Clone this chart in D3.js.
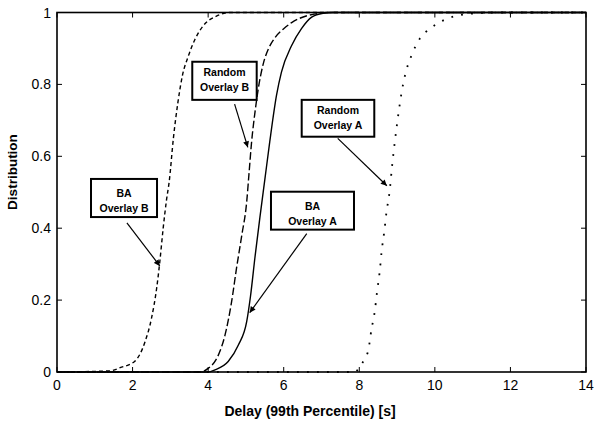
<!DOCTYPE html>
<html>
<head>
<meta charset="utf-8">
<script src="https://cdn.jsdelivr.net/npm/d3@7"></script>
<style>
  body { margin: 0; background: #fff; }
  svg { font-family: "Liberation Sans", Arial, sans-serif; }
</style>
</head>
<body>
<div id="chart"></div>
<script>
// curves (x = delay [s], y = distribution)
var baB_x = [0, 1.4, 1.67, 2.06, 2.33, 2.5, 2.64, 2.72, 2.81, 2.9, 2.97, 3.08, 3.2, 3.32, 3.47, 3.65, 3.87, 4.22, 4.6, 14];
var baB_y = [0, 0.003, 0.012, 0.03, 0.084, 0.149, 0.235, 0.306, 0.40, 0.48, 0.53, 0.65, 0.75, 0.825, 0.877, 0.925, 0.963, 0.99, 1, 1];

var rndB_x = [0, 3.8, 4.0, 4.27, 4.44, 4.62, 4.75, 4.89, 5.02, 5.08, 5.15, 5.24, 5.33, 5.46, 5.6, 5.77, 6.0, 6.21, 6.65, 6.9, 7.2, 14];
var rndB_y = [0, 0, 0.01, 0.047, 0.10, 0.195, 0.288, 0.38, 0.473, 0.55, 0.64, 0.723, 0.79, 0.858, 0.9, 0.93, 0.955, 0.972, 0.992, 0.997, 1, 1];

var baA_x = [0, 4.0, 4.18, 4.53, 4.8, 5.02, 5.12, 5.24, 5.37, 5.5, 5.63, 5.81, 5.94, 6.21, 6.47, 6.74, 7.04, 7.3, 14];
var baA_y = [0, 0, 0.006, 0.029, 0.075, 0.14, 0.21, 0.32, 0.43, 0.535, 0.64, 0.77, 0.834, 0.908, 0.955, 0.987, 0.998, 1, 1];

var rndA_x = [0, 7.9, 7.99, 8.15, 8.24, 8.32, 8.41, 8.47, 8.54, 8.59, 8.66, 8.72, 8.8, 8.87, 8.94, 9.03, 9.12, 9.21, 9.38, 9.6, 9.87, 10.26, 10.53, 11.0, 11.6, 14];
var rndA_y = [0, 0, 0.012, 0.038, 0.061, 0.117, 0.169, 0.223, 0.279, 0.334, 0.39, 0.445, 0.50, 0.575, 0.64, 0.714, 0.778, 0.825, 0.88, 0.927, 0.955, 0.98, 0.99, 0.997, 1, 1];

var xTicks = [0, 2, 4, 6, 8, 10, 12, 14];
var yTicks = [0, 0.2, 0.4, 0.6, 0.8, 1];

// annotations: label lines, box corners (data units) and arrow tail/tip
var noteLabels = [["Random", "Overlay B"], ["BA", "Overlay B"], ["Random", "Overlay A"], ["BA", "Overlay A"]];
var noteBox = [[3.58, 0.863, 5.285, 0.757], [0.9, 0.537, 2.647, 0.431], [6.476, 0.757, 8.397, 0.6545], [5.663, 0.5015, 7.86, 0.396]];
var noteArrow = [[4.7, 0.745, 5.05, 0.625], [1.85, 0.415, 2.72, 0.295], [7.43, 0.65, 8.73, 0.518], [6.61, 0.385, 5.1, 0.165]];
var noteTextTop = [13.8, 17.8, 13.8, 17.8];

var W = 594, H = 423;
var margin = {top: 12.5, right: 8, bottom: 51, left: 57};
var w = W - margin.left - margin.right;
var h = H - margin.top - margin.bottom;

var svg = d3.select("#chart").append("svg")
  .attr("width", W).attr("height", H);

svg.append("defs").append("marker")
  .attr("id", "arrow")
  .attr("viewBox", "0 0 10 10")
  .attr("refX", 10).attr("refY", 5)
  .attr("markerWidth", 7).attr("markerHeight", 6)
  .attr("markerUnits", "userSpaceOnUse")
  .attr("orient", "auto")
  .append("path")
  .attr("d", "M0,0 L10,5 L0,10 z")
  .style("fill", "black");

var g = svg.append("g").attr("transform", "translate(" + margin.left + "," + margin.top + ")");

var x = d3.scaleLinear().domain([0, 14]).range([0, w]);
var y = d3.scaleLinear().domain([0, 1]).range([h, 0]);

// ticks (inside, on all sides)
var tick = 5;
xTicks.forEach(function (t) {
  g.append("line").attr("x1", x(t)).attr("x2", x(t)).attr("y1", h).attr("y2", h - tick).style("stroke", "black").style("stroke-width", 1);
  g.append("line").attr("x1", x(t)).attr("x2", x(t)).attr("y1", 0).attr("y2", tick).style("stroke", "black").style("stroke-width", 1);
  g.append("text").attr("x", x(t)).attr("y", h + 18).attr("text-anchor", "middle")
    .style("font-size", "14px").text(t);
});
yTicks.forEach(function (t) {
  g.append("line").attr("x1", 0).attr("x2", tick).attr("y1", y(t)).attr("y2", y(t)).style("stroke", "black").style("stroke-width", 1);
  g.append("line").attr("x1", w).attr("x2", w - tick).attr("y1", y(t)).attr("y2", y(t)).style("stroke", "black").style("stroke-width", 1);
  g.append("text").attr("x", -6).attr("y", y(t) + 5).attr("text-anchor", "end")
    .style("font-size", "14px").text(t);
});

// curves
var line = d3.line().x(function (d) { return x(d[0]); }).y(function (d) { return y(d[1]); })
  .curve(d3.curveMonotoneX);

function zip(xs, ys) { return xs.map(function (v, i) { return [v, ys[i]]; }); }

var series = [
  {pts: zip(baB_x, baB_y), dash: "4,3", sw: 1.4},
  {pts: zip(rndB_x, rndB_y), dash: "7.5,3", sw: 1.4},
  {pts: zip(baA_x, baA_y), dash: null, sw: 1.4},
  {pts: zip(rndA_x, rndA_y), dash: "1.8,8.2", sw: 1.8}
];
series.forEach(function (s) {
  g.append("path").datum(s.pts).attr("d", line)
    .style("fill", "none").style("stroke", "black").style("stroke-width", s.sw)
    .style("stroke-dasharray", s.dash);
});

// frame
g.append("rect").attr("x", 0).attr("y", 0).attr("width", w).attr("height", h)
  .style("fill", "none").style("stroke", "black").style("stroke-width", 1.6);

// annotations
noteLabels.forEach(function (lab, i) {
  var a = noteArrow[i];
  g.append("line").attr("x1", x(a[0])).attr("y1", y(a[1])).attr("x2", x(a[2])).attr("y2", y(a[3]))
    .style("stroke", "black").style("stroke-width", 1.2).attr("marker-end", "url(#arrow)");
  var b = noteBox[i];
  var bx = x(b[0]), by = y(b[1]), bw = x(b[2]) - x(b[0]), bh = y(b[3]) - y(b[1]);
  g.append("rect").attr("x", bx).attr("y", by).attr("width", bw).attr("height", bh)
    .style("fill", "white").style("stroke", "black").style("stroke-width", 2);
  lab.forEach(function (txt, k) {
    g.append("text").attr("x", bx + bw / 2).attr("y", by + noteTextTop[i] + k * 15)
      .attr("text-anchor", "middle").style("font-size", "10.5px").style("font-weight", "bold")
      .text(txt);
  });
});

// axis titles
svg.append("text").attr("x", 310).attr("y", 416).attr("text-anchor", "middle")
  .style("font-size", "14px").style("font-weight", "bold").text("Delay (99th Percentile) [s]");
svg.append("text").attr("transform", "translate(17,172) rotate(-90)")
  .attr("text-anchor", "middle")
  .style("font-size", "13.5px").style("font-weight", "bold").text("Distribution");
</script>
</body>
</html>
